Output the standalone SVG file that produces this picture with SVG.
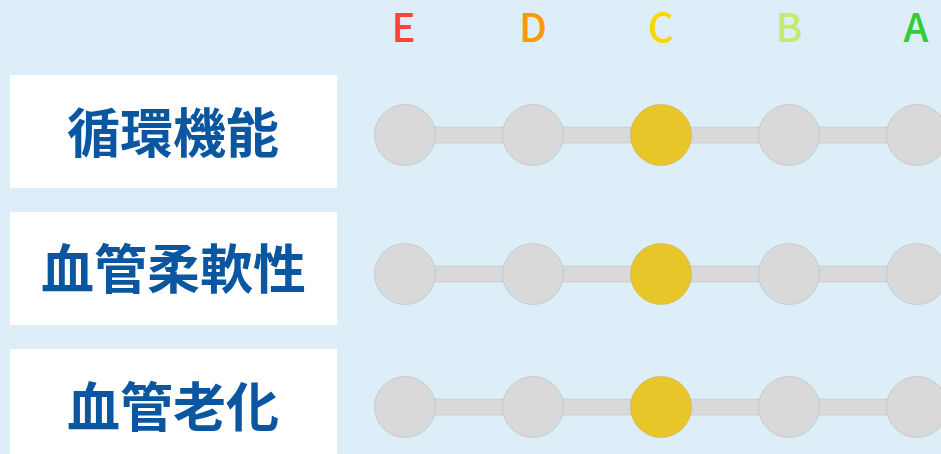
<svg xmlns="http://www.w3.org/2000/svg" width="941" height="454" viewBox="0 0 941 454">
<style>
.bg{fill:#ddeef9}
.box{fill:#ffffff}
.lbl{font-family:"Noto Sans CJK JP","Noto Sans",sans-serif;font-weight:700;font-size:53px;fill:#0b56a0;text-anchor:middle}
.grade{font-family:"Noto Sans CJK JP","Noto Sans",sans-serif;font-weight:500;font-size:40px;text-anchor:middle}
.bar{fill:#d9d9d9;stroke:#b9c5cf;stroke-width:0.6}
.dot{fill:#d9d9d9;stroke:#b0bcc6;stroke-width:0.6}
.on{fill:#e8c62a;stroke:#c8b050;stroke-width:0.6}
</style>
<rect class="bg" x="0" y="0" width="941" height="454"/>
<g id="grades">
<text class="grade" x="403.5" y="42" fill="#ff4136">E</text>
<text class="grade" x="533" y="42" fill="#ff9800">D</text>
<text class="grade" x="661" y="42" fill="#ffd500">C</text>
<text class="grade" x="789" y="42" fill="#c3ec6a">B</text>
<text class="grade" x="916" y="42" fill="#33cc33">A</text>
</g>
<g id="row1">
<rect class="box" x="10" y="75" width="327" height="113"/>
<text class="lbl" x="173" y="153">循環機能</text>
</g>
<g id="row2">
<rect class="box" x="10" y="212" width="327" height="113"/>
<text class="lbl" x="173.5" y="289">血管柔軟性</text>
</g>
<g id="row3">
<rect class="box" x="10" y="349" width="327" height="113"/>
<text class="lbl" x="173" y="427">血管老化</text>
</g>
<g id="connectors">
<rect class="bar" x="405" y="127" width="512" height="16"/>
<rect class="bar" x="405" y="266" width="512" height="16"/>
<rect class="bar" x="405" y="399" width="512" height="16"/>
</g>
<g id="scale1">
<circle class="dot" cx="405" cy="135" r="30.5"/>
<circle class="dot" cx="533" cy="135" r="30.5"/>
<circle class="on" cx="661" cy="135" r="30.5"/>
<circle class="dot" cx="789" cy="135" r="30.5"/>
<circle class="dot" cx="917" cy="135" r="30.5"/>
</g>
<g id="scale2">
<circle class="dot" cx="405" cy="274" r="30.5"/>
<circle class="dot" cx="533" cy="274" r="30.5"/>
<circle class="on" cx="661" cy="274" r="30.5"/>
<circle class="dot" cx="789" cy="274" r="30.5"/>
<circle class="dot" cx="917" cy="274" r="30.5"/>
</g>
<g id="scale3">
<circle class="dot" cx="405" cy="407" r="30.5"/>
<circle class="dot" cx="533" cy="407" r="30.5"/>
<circle class="on" cx="661" cy="407" r="30.5"/>
<circle class="dot" cx="789" cy="407" r="30.5"/>
<circle class="dot" cx="917" cy="407" r="30.5"/>
</g>
</svg>
